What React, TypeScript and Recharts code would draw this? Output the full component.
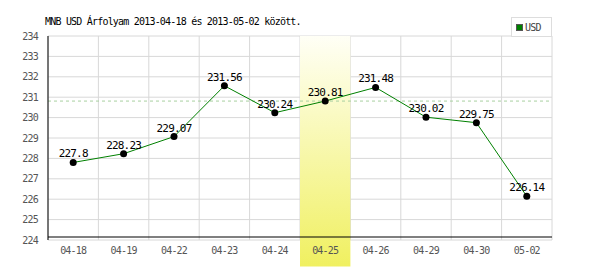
import React from "react"
import {
  LineChart,
  Line,
  XAxis,
  YAxis,
  CartesianGrid,
  ReferenceArea,
  ReferenceLine,
  LabelList,
} from "recharts"

const dates = ["04-18", "04-19", "04-22", "04-23", "04-24", "04-25", "04-26", "04-29", "04-30", "05-02"]
const usdRates = [227.8, 228.23, 229.07, 231.56, 230.24, 230.81, 231.48, 230.02, 229.75, 226.14]
const yTicks = [224, 225, 226, 227, 228, 229, 230, 231, 232, 233, 234]
const highlightDate = "04-25"
const highlightRate = 230.81

const FONT = "'DejaVu Sans Mono', 'Liberation Mono', monospace"

const chartData = dates.map((d, i) => ({ date: d, usd: usdRates[i] }))

export default function App() {
  return (
    <div style={{ position: "absolute", left: 0, top: 0, width: 600, height: 270, background: "#fff" }}>
      <div
        style={{
          position: "absolute",
          left: 45,
          top: 16,
          fontFamily: FONT,
          fontSize: 10,
          letterSpacing: -0.8,
          color: "#000",
          whiteSpace: "nowrap",
        }}
      >
        MNB USD Árfolyam 2013-04-18 és 2013-05-02 között.
      </div>
      <div
        style={{
          position: "absolute",
          left: 511,
          top: 17,
          width: 41,
          height: 20,
          border: "1px solid #ddd",
          boxSizing: "border-box",
          background: "#fff",
          fontFamily: FONT,
          fontSize: 10,
          letterSpacing: -0.8,
          color: "#444",
          display: "flex",
          alignItems: "center",
          paddingLeft: 4,
          zIndex: 2,
        }}
      >
        <span style={{ display: "inline-block", width: 7, height: 7, background: "#008000", border: "1px solid #555", boxSizing: "border-box", marginRight: 2 }} />
        USD
      </div>
      <LineChart width={600} height={270} data={chartData} margin={{ top: 36, right: 48, bottom: 0, left: 0 }}>
        <defs>
          <linearGradient id="hl" x1="0" y1="0" x2="0" y2="1">
            <stop offset="0%" stopColor="#fffff6" />
            <stop offset="100%" stopColor="#f0f060" />
          </linearGradient>
        </defs>
        <CartesianGrid
          stroke="#d8d8d8"
          verticalCoordinatesGenerator={({ offset }: any) =>
            dates.map((_, i) => offset.left + (i * offset.width) / dates.length).concat(offset.left + offset.width)
          }
        />
        <ReferenceLine y={highlightRate} stroke="#a8d0a0" strokeDasharray="3 3" />
        <ReferenceArea
          x1={highlightDate}
          x2={highlightDate}
          y1={222.7}
          y2={234}
          ifOverflow="visible"
          fill="url(#hl)"
          fillOpacity={1}
          stroke="none"
        />
        <XAxis
          dataKey="date"
          scale="band"
          height={30}
          tickLine={false}
          axisLine={{ stroke: "#000", transform: "translate(0,-3)" }}
          tick={{ fill: "#555", fontSize: 10, fontFamily: FONT, letterSpacing: -0.8 }}
          tickMargin={1}
        />
        <YAxis
          domain={[224, 234]}
          ticks={yTicks}
          width={48}
          tickLine={false}
          axisLine={{ stroke: "#000" }}
          interval={0}
          tick={{ fill: "#555", fontSize: 10, fontFamily: FONT, letterSpacing: -0.8 }}
          tickMargin={4}
        />
        <Line
          dataKey="usd"
          stroke="#008000"
          strokeWidth={1}
          dot={{ r: 3.5, fill: "#000", stroke: "#000", strokeWidth: 0 }}
          isAnimationActive={false}
        >
          <LabelList
            dataKey="usd"
            position="top"
            offset={5}
            style={{ fill: "#000", fontSize: 11, fontFamily: FONT, letterSpacing: -0.8 }}
          />
        </Line>
      </LineChart>
    </div>
  )
}
